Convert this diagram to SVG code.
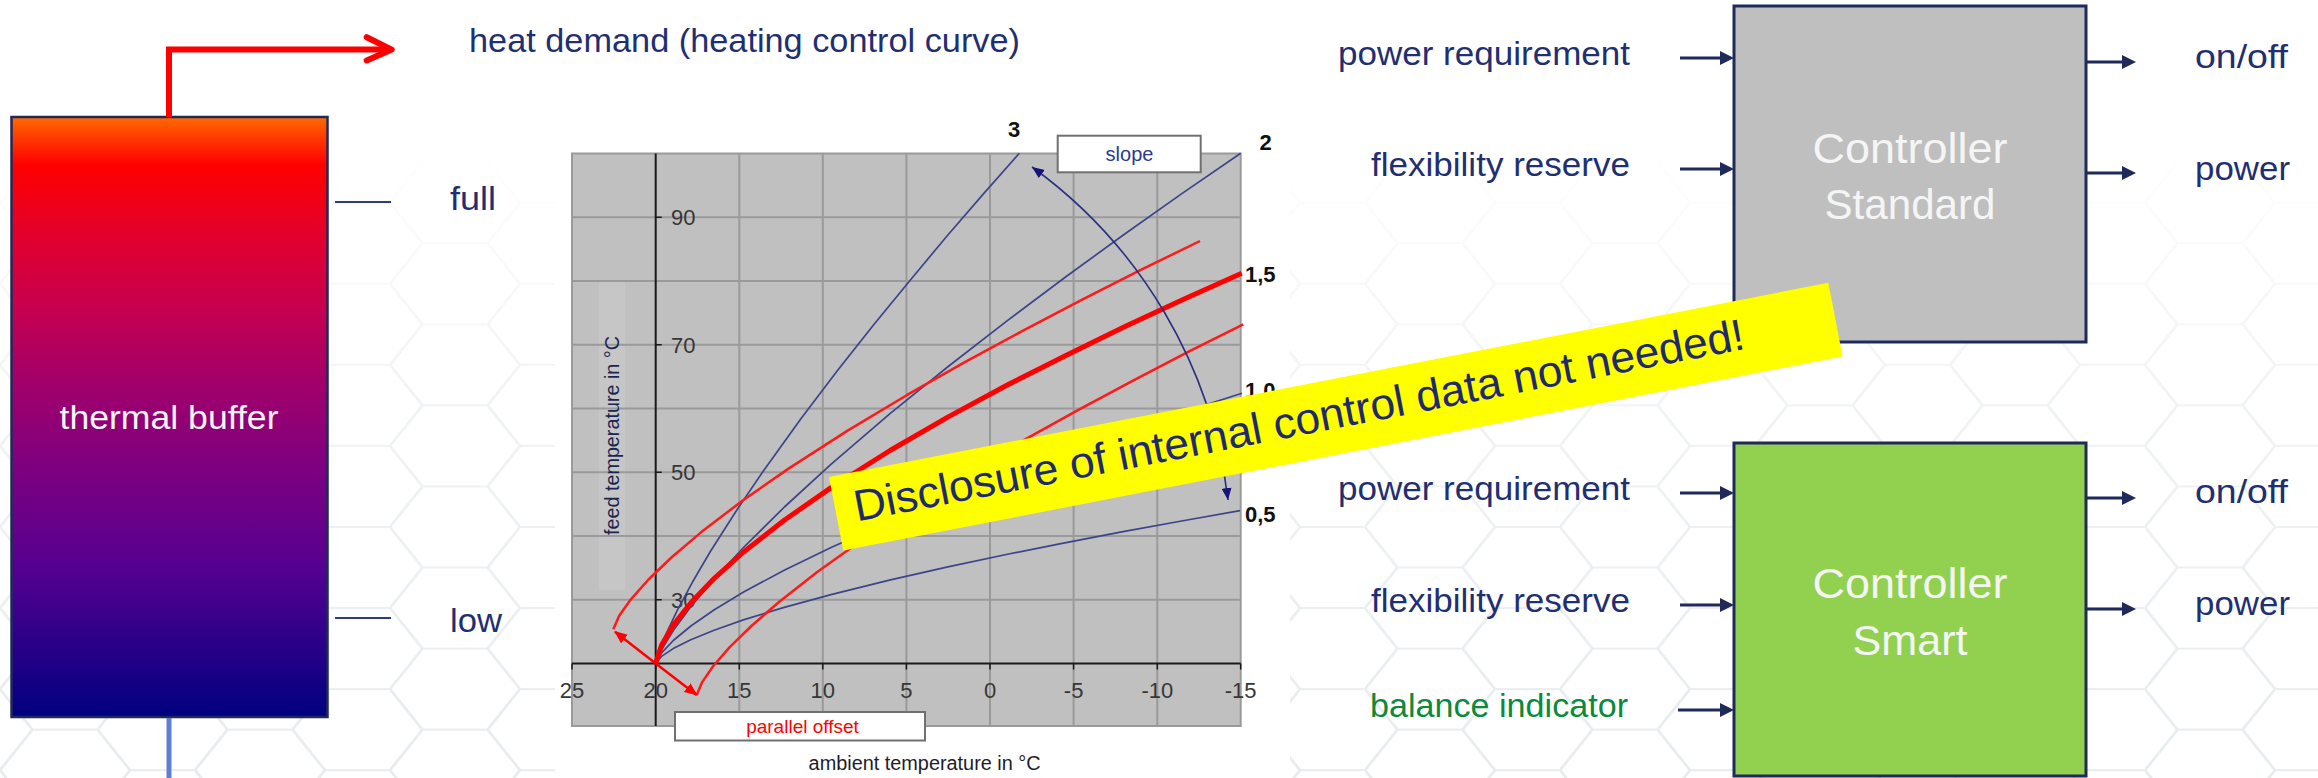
<svg xmlns="http://www.w3.org/2000/svg" width="2318" height="778" viewBox="0 0 2318 778">
<style>
.lbl{font-family:"Liberation Sans",Arial,sans-serif;font-size:34px;fill:#1F2F72}
.ctl{font-family:"Liberation Sans",Arial,sans-serif;font-size:42px;fill:#F5F5F5;text-anchor:middle}
.tk{font-family:"Liberation Sans",Arial,sans-serif;font-size:22px;fill:#363636}
.tkx{font-family:"Liberation Sans",Arial,sans-serif;font-size:22px;fill:#363636;text-anchor:middle}
.num{font-family:"Liberation Sans",Arial,sans-serif;font-size:22px;font-weight:bold;fill:#111}
.grid{stroke:#9A9A9A;stroke-width:2;fill:none}
.axis{stroke:#1A1A1A;stroke-width:2;fill:none}
.blue{stroke:#3D4589;stroke-width:1.7;fill:none;stroke-linejoin:round}
.red{stroke:#FF1A1A;stroke-width:2.5;fill:none;stroke-linejoin:round}
.redthick{stroke:#FF0000;stroke-width:5;fill:none;stroke-linejoin:round}
.ctlbox{stroke:#1F2A5A;stroke-width:3}
.io{stroke:#1F2A5A;stroke-width:3;fill:none;marker-end:url(#navyHead)}
.tickline{stroke:#2B3C80;stroke-width:2}
</style>
<defs>
<linearGradient id="bufGrad" x1="0" y1="0" x2="0" y2="1">
<stop offset="0" stop-color="#FF6A00"/>
<stop offset="0.035" stop-color="#FF3A00"/>
<stop offset="0.08" stop-color="#FF0000"/>
<stop offset="0.2" stop-color="#E2002E"/>
<stop offset="0.32" stop-color="#C6004F"/>
<stop offset="0.45" stop-color="#A0006C"/>
<stop offset="0.6" stop-color="#7A0082"/>
<stop offset="0.75" stop-color="#560090"/>
<stop offset="0.88" stop-color="#2A0088"/>
<stop offset="1" stop-color="#000080"/>
</linearGradient>
<linearGradient id="fadeGrad" x1="0" y1="0" x2="0" y2="1">
<stop offset="0" stop-color="#000"/>
<stop offset="0.18" stop-color="#000"/>
<stop offset="0.5" stop-color="#999"/>
<stop offset="1" stop-color="#fff"/>
</linearGradient>
<mask id="fade"><rect width="2318" height="778" fill="url(#fadeGrad)"/></mask>
<pattern id="hex" width="195" height="112.6" patternUnits="userSpaceOnUse" patternTransform="scale(1,0.72)">
<path d="M0,56.3 L32.5,0 L97.5,0 L130,56.3 L97.5,112.6 L32.5,112.6 Z M130,56.3 L195,56.3" fill="none" stroke="#D8DEE2" stroke-width="3"/>
</pattern>
<marker id="navyHead" viewBox="0 0 14 14" markerWidth="14" markerHeight="14" refX="0" refY="7" orient="auto" markerUnits="userSpaceOnUse"><path d="M0,0 L14,7 L0,14 z" fill="#1F2A5A"/></marker>
<marker id="slopeHead" viewBox="0 0 12 10" markerWidth="12" markerHeight="10" refX="12" refY="5" orient="auto-start-reverse" markerUnits="userSpaceOnUse"><path d="M0,0 L12,5 L0,10 z" fill="#14147A"/></marker>
<marker id="redHead" viewBox="0 0 13 11" markerWidth="13" markerHeight="11" refX="12" refY="5.5" orient="auto" markerUnits="userSpaceOnUse"><path d="M0,0 L13,5.5 L0,11 z" fill="#FF0000"/></marker>
</defs>

<rect width="2318" height="778" fill="#FFFFFF"/>
<g id="background-texture" mask="url(#fade)" opacity="0.6">
<rect width="2318" height="778" fill="url(#hex)"/>
</g>
<rect x="555" y="100" width="735" height="678" fill="#FFFFFF"/>

<g id="thermal-buffer">
<rect x="11.5" y="117" width="316" height="600" fill="url(#bufGrad)" stroke="#1F2A5A" stroke-width="2.5"/>
<text x="169" y="429" class="lbl" style="fill:#F4F4F4;font-size:33px" text-anchor="middle" textLength="219" lengthAdjust="spacingAndGlyphs">thermal buffer</text>
</g>

<g id="level-full">
<line x1="335" y1="202" x2="391" y2="202" class="tickline"/>
<text x="450" y="210" class="lbl" textLength="46" lengthAdjust="spacingAndGlyphs">full</text>
</g>
<g id="level-low">
<line x1="335" y1="618" x2="391" y2="618" class="tickline"/>
<text x="450" y="632" class="lbl" textLength="52" lengthAdjust="spacingAndGlyphs">low</text>
</g>

<g id="heat-demand">
<text x="469" y="52" class="lbl" style="font-size:33px" textLength="551" lengthAdjust="spacingAndGlyphs">heat demand (heating control curve)</text>
</g>

<g id="heating-curve-chart">
<rect x="572" y="153.5" width="668.7" height="572.5" fill="#C0C0C0"/>
<rect x="599" y="280" width="26" height="310" fill="#C6C6C6"/>
<g class="grid">
<path d="M739.3,153.5V726 M822.8,153.5V726 M906.4,153.5V726 M990,153.5V726 M1073.6,153.5V726 M1157.3,153.5V726"/>
<path d="M572,217.25H1240.7 M572,281H1240.7 M572,344.75H1240.7 M572,408.5H1240.7 M572,472.25H1240.7 M572,536H1240.7 M572,599.75H1240.7"/>
<rect x="572" y="153.5" width="668.7" height="572.5"/>
</g>
<g class="axis">
<path d="M572,663.5H1240.7"/>
<path d="M655.7,153.5V726"/>
<path d="M572,663.5v6 M655.7,663.5v6 M739.3,663.5v6 M822.8,663.5v6 M906.4,663.5v6 M990,663.5v6 M1073.6,663.5v6 M1157.3,663.5v6 M1240.7,663.5v6" stroke-width="1.5"/>
<path d="M655.7,217.25h6 M655.7,344.75h6 M655.7,472.25h6 M655.7,599.75h6" stroke-width="1.5"/>
</g>
<text x="671" y="225" class="tk">90</text>
<text x="671" y="352.5" class="tk">70</text>
<text x="671" y="480" class="tk">50</text>
<text x="671" y="607.5" class="tk">30</text>
<text x="572" y="698" class="tkx">25</text>
<text x="655.7" y="698" class="tkx">20</text>
<text x="739.3" y="698" class="tkx">15</text>
<text x="822.8" y="698" class="tkx">10</text>
<text x="906.4" y="698" class="tkx">5</text>
<text x="990" y="698" class="tkx">0</text>
<text x="1073.6" y="698" class="tkx">-5</text>
<text x="1157.3" y="698" class="tkx">-10</text>
<text x="1240.7" y="698" class="tkx">-15</text>
<text transform="translate(619,535) rotate(-90)" class="lbl" style="font-size:20px;fill:#1B2550" textLength="199" lengthAdjust="spacingAndGlyphs">feed temperature in °C</text>
<text x="808.6" y="770" class="lbl" style="font-size:20px;fill:#1D1D2B" textLength="232" lengthAdjust="spacingAndGlyphs">ambient temperature in °C</text>

<path class="blue" d="M655.7,663.5 L659.3,650.9 L666.6,632.9 L677.5,609.9 L692.1,582.8 L710.2,551.8 L735.7,511.7 L764.8,468.9 L801.1,418.5 L837.5,370.6 L873.9,324.5 L910.2,280.2 L946.6,236.5 L983,194.4 L1019.3,153.3"/>
<path class="blue" d="M655.7,663.5 L661.5,649.7 L673.3,630.6 L690.8,606.8 L714.2,579 L743.5,547.5 L784.4,507 L831.2,464.1 L889.7,413.8 L948.2,366.5 L1006.7,321.1 L1065.2,277.2 L1123.7,234.8 L1182.2,193.4 L1240.7,153.3"/>
<path class="blue" d="M655.7,663.5 L661.6,652.9 L673.3,640.5 L690.9,626 L714.3,609.8 L743.6,592 L784.7,570 L831.6,547.3 L890.2,521.3 L948.8,497.2 L1007.4,474.7 L1066,453.1 L1124.7,432.3 L1183.3,412.1 L1241.9,393.3"/>
<path class="blue" d="M655.7,663.5 L661.5,656.4 L673.2,648.6 L690.8,639.8 L714.1,630.2 L743.3,619.9 L784.2,607.4 L831,594.6 L889.4,580.1 L947.9,566.9 L1006.3,554.5 L1064.7,542.9 L1123.1,531.6 L1181.6,521 L1240,510.7"/>
<path class="red" d="M613.3,629.3 L619.2,615.8 L630.9,599.3 L648.5,579.5 L672,557 L701.3,532.1 L742.4,500.7 L789.3,468.1 L848,430.4 L906.7,395.2 L965.3,361.9 L1024,330.2 L1082.7,299.4 L1141.3,269.7 L1200,241"/>
<path class="red" d="M696.7,695 L702.2,682.1 L713.1,666.3 L729.5,647.4 L751.4,626 L778.7,602.2 L816.9,572.2 L860.7,541.1 L915.3,505.1 L970,471.5 L1024.7,439.7 L1079.3,409.4 L1134,380.1 L1188.6,351.7 L1243.3,324.3"/>
<path class="redthick" d="M655.7,663.5 L661.6,645 L673.3,625.1 L690.9,602.7 L714.3,578.3 L743.6,552 L784.6,520 L831.5,487.4 L890.1,450.5 L948.7,416.6 L1007.3,385 L1065.9,355.4 L1124.5,326.7 L1183.1,299.5 L1241.7,273.3"/>
<line x1="655.7" y1="663.5" x2="615" y2="631.7" stroke="#FF0000" stroke-width="2.5" marker-end="url(#redHead)"/>
<line x1="655.7" y1="663.5" x2="696.7" y2="695" stroke="#FF0000" stroke-width="2.5" marker-end="url(#redHead)"/>
<path d="M1228,500 A482,482 0 0 0 1032,167" fill="none" stroke="#2A3180" stroke-width="1.6" marker-start="url(#slopeHead)" marker-end="url(#slopeHead)"/>
<text x="1014" y="137" class="num" text-anchor="middle">3</text>
<text x="1265.5" y="150" class="num" text-anchor="middle">2</text>
<text x="1245" y="282" class="num">1,5</text>
<text x="1245" y="398" class="num">1,0</text>
<text x="1245" y="522" class="num">0,5</text>
<rect x="1057.7" y="135.7" width="143" height="36.6" fill="#FFFFFF" stroke="#707070" stroke-width="2"/>
<text x="1129.5" y="161" class="lbl" style="font-size:20px;fill:#2B3990" text-anchor="middle">slope</text>
<rect x="675" y="712" width="250" height="28.5" fill="#FFFFFF" stroke="#707070" stroke-width="2"/>
<text x="802.5" y="733" class="lbl" style="font-size:19px;fill:#FF0000" text-anchor="middle">parallel offset</text>
</g>

<g id="controller-standard">
<rect x="1734" y="6" width="352" height="336" fill="#BFBFBF" class="ctlbox"/>
<text x="1910" y="162.5" class="ctl" textLength="195" lengthAdjust="spacingAndGlyphs">Controller</text>
<text x="1910" y="219" class="ctl" textLength="171" lengthAdjust="spacingAndGlyphs">Standard</text>
</g>

<g id="controller-smart">
<rect x="1734" y="443" width="352" height="333" fill="#92D050" class="ctlbox"/>
<text x="1910" y="598" class="ctl" textLength="195" lengthAdjust="spacingAndGlyphs">Controller</text>
<text x="1910" y="655" class="ctl" textLength="115" lengthAdjust="spacingAndGlyphs">Smart</text>
</g>

<g id="standard-inputs">
<text x="1630" y="65" class="lbl" text-anchor="end" textLength="292" lengthAdjust="spacingAndGlyphs">power requirement</text>
<text x="1630" y="176" class="lbl" text-anchor="end" textLength="259" lengthAdjust="spacingAndGlyphs">flexibility reserve</text>
</g>
<g id="standard-outputs">
<text x="2195" y="68" class="lbl" textLength="93" lengthAdjust="spacingAndGlyphs">on/off</text>
<text x="2195" y="180" class="lbl" textLength="95" lengthAdjust="spacingAndGlyphs">power</text>
</g>
<g id="smart-inputs">
<text x="1630" y="500" class="lbl" text-anchor="end" textLength="292" lengthAdjust="spacingAndGlyphs">power requirement</text>
<text x="1630" y="612" class="lbl" text-anchor="end" textLength="259" lengthAdjust="spacingAndGlyphs">flexibility reserve</text>
<text x="1370" y="716.5" class="lbl" style="fill:#0A8A3A" textLength="258" lengthAdjust="spacingAndGlyphs">balance indicator</text>
</g>
<g id="smart-outputs">
<text x="2195" y="503" class="lbl" textLength="93" lengthAdjust="spacingAndGlyphs">on/off</text>
<text x="2195" y="615" class="lbl" textLength="95" lengthAdjust="spacingAndGlyphs">power</text>
</g>

<g id="connectors">
<path d="M169,117 L169,49.6 L389,49.6" fill="none" stroke="#FF0000" stroke-width="6"/>
<path d="M366.7,37.2 L391.7,49.6 L366.7,60.5" fill="none" stroke="#FF0000" stroke-width="6" stroke-linecap="round" stroke-linejoin="round"/>
<line x1="169" y1="718" x2="169" y2="778" stroke="#5F7FD6" stroke-width="5"/>
<line x1="1680" y1="58" x2="1720" y2="58" class="io"/>
<line x1="1680" y1="169" x2="1720" y2="169" class="io"/>
<line x1="1680" y1="493" x2="1720" y2="493" class="io"/>
<line x1="1680" y1="605" x2="1720" y2="605" class="io"/>
<line x1="1678" y1="710" x2="1720" y2="710" class="io"/>
<line x1="2086" y1="62" x2="2122" y2="62" class="io"/>
<line x1="2086" y1="173" x2="2122" y2="173" class="io"/>
<line x1="2086" y1="498" x2="2122" y2="498" class="io"/>
<line x1="2086" y1="609" x2="2122" y2="609" class="io"/>
</g>

<g id="disclosure-banner" transform="translate(829,477) rotate(-11)">
<rect x="0" y="0" width="1018" height="75" fill="#FFFF00"/>
<text x="19" y="49" class="lbl" style="font-size:44px;fill:#1F2A6E" textLength="906" lengthAdjust="spacingAndGlyphs">Disclosure of internal control data not needed!</text>
</g>
</svg>
